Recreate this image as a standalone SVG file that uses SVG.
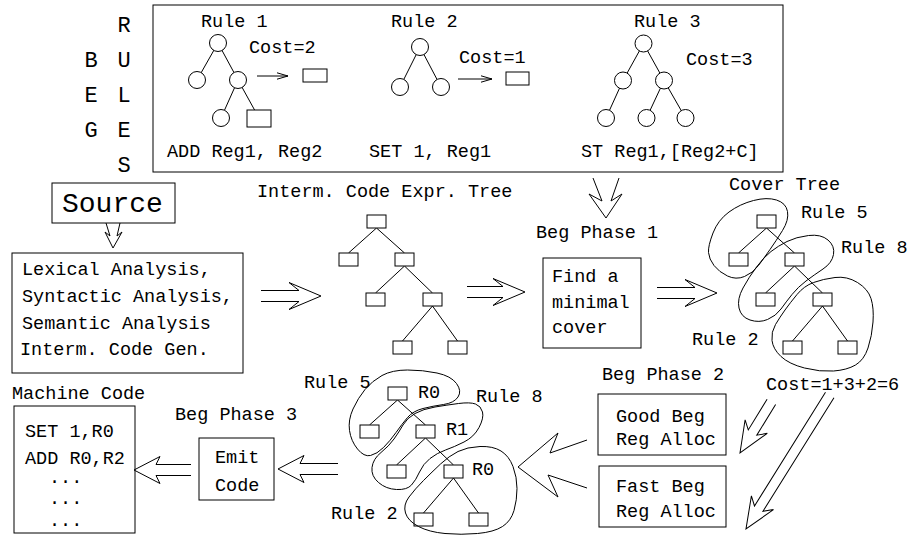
<svg xmlns="http://www.w3.org/2000/svg" width="911" height="536" viewBox="0 0 911 536">
<style>
.t{font-family:"Liberation Mono","Courier New",monospace;font-size:18.5px;fill:#000}
.big{font-size:22px}
.src{font-size:28px}
.box{fill:none;stroke:#000;stroke-width:1}
.ln{fill:none;stroke:#000;stroke-width:1}
.nd{fill:#fff;stroke:#000;stroke-width:1}
.ha{fill:none;stroke:#000;stroke-width:1;stroke-linejoin:miter}
</style>
<defs>
<marker id="stick" markerWidth="12" markerHeight="8" refX="11" refY="4" orient="auto" markerUnits="userSpaceOnUse">
<path d="M0,0.8 L11,4 L0,7.2" fill="none" stroke="#000" stroke-width="1"/>
</marker>
</defs>
<rect width="911" height="536" fill="#fff"/>

<g id="beg-rules">
<text class="t big" text-anchor="middle" x="91" y="67">B</text>
<text class="t big" text-anchor="middle" x="91" y="102">E</text>
<text class="t big" text-anchor="middle" x="91" y="137">G</text>
<text class="t big" text-anchor="middle" x="124" y="32">R</text>
<text class="t big" text-anchor="middle" x="124" y="67">U</text>
<text class="t big" text-anchor="middle" x="124" y="102">L</text>
<text class="t big" text-anchor="middle" x="124" y="137">E</text>
<text class="t big" text-anchor="middle" x="124" y="172">S</text>
</g>

<g id="rules-box">
<rect class="box" x="153" y="5" width="630" height="167"/>
<g id="rule1">
<text class="t" x="201" y="27">Rule 1</text>
<text class="t" x="249" y="53">Cost=2</text>
<path class="ln" d="M218,43 L197,80 M218,43 L238,80 M238,80 L221,118 M238,80 L259,118"/>
<circle class="nd" cx="218" cy="43" r="8.5"/>
<circle class="nd" cx="197" cy="80" r="8.5"/>
<circle class="nd" cx="238" cy="80" r="8.5"/>
<circle class="nd" cx="221" cy="118" r="8.5"/>
<rect class="nd" x="247" y="110" width="24" height="17"/>
<line class="ln" x1="257" y1="76" x2="288" y2="76" marker-end="url(#stick)"/>
<rect class="nd" x="303" y="69" width="24" height="13"/>
<text class="t" x="167" y="157">ADD Reg1, Reg2</text>
</g>
<g id="rule2">
<text class="t" x="391" y="27">Rule 2</text>
<text class="t" x="459" y="63">Cost=1</text>
<path class="ln" d="M420,47 L400,87 M420,47 L441,87"/>
<circle class="nd" cx="420" cy="47" r="8.5"/>
<circle class="nd" cx="400" cy="87" r="8.5"/>
<circle class="nd" cx="441" cy="87" r="8.5"/>
<line class="ln" x1="458" y1="79" x2="492" y2="79" marker-end="url(#stick)"/>
<rect class="nd" x="506" y="72" width="23" height="13"/>
<text class="t" x="369" y="157">SET 1, Reg1</text>
</g>
<g id="rule3">
<text class="t" x="634" y="27">Rule 3</text>
<text class="t" x="686" y="65">Cost=3</text>
<path class="ln" d="M643.5,43.5 L623,80.5 M643.5,43.5 L664,80.5 M623,80.5 L606,118 M664,80.5 L646.5,118 M664,80.5 L685.5,118"/>
<circle class="nd" cx="643.5" cy="43.5" r="8.5"/>
<circle class="nd" cx="623" cy="80.5" r="8.5"/>
<circle class="nd" cx="664" cy="80.5" r="8.5"/>
<circle class="nd" cx="606" cy="118" r="8.5"/>
<circle class="nd" cx="646.5" cy="118" r="8.5"/>
<circle class="nd" cx="685.5" cy="118" r="8.5"/>
<text class="t" x="581" y="157">ST Reg1,[Reg2+C]</text>
</g>
</g>

<g id="source">
<rect class="box" x="52" y="183" width="123" height="40"/>
<text class="t src" x="62" y="212">Source</text>
</g>

<g id="front-end">
<rect class="box" x="12" y="253" width="231" height="120"/>
<text class="t" x="22" y="275">Lexical Analysis,</text>
<text class="t" x="22" y="302">Syntactic Analysis,</text>
<text class="t" x="22" y="329">Semantic Analysis</text>
<text class="t" x="20" y="355">Interm. Code Gen.</text>
</g>

<g id="expr-tree">
<text class="t" x="257" y="197">Interm. Code Expr. Tree</text>
<path class="ln" d="M376.5,228 L348.5,253 M376.5,228 L404.5,253 M404.5,266 L375.5,293 M404.5,266 L432.5,293 M432.5,306 L402.5,341 M432.5,306 L457.5,341"/>
<rect class="nd" x="367" y="215" width="19" height="13"/>
<rect class="nd" x="339" y="253" width="19" height="13"/>
<rect class="nd" x="395" y="253" width="19" height="13"/>
<rect class="nd" x="366" y="293" width="19" height="13"/>
<rect class="nd" x="423" y="293" width="19" height="13"/>
<rect class="nd" x="393" y="341" width="19" height="13"/>
<rect class="nd" x="448" y="341" width="19" height="13"/>
</g>

<g id="beg-phase1">
<text class="t" x="536" y="238">Beg Phase 1</text>
<rect class="box" x="543" y="258" width="98" height="90"/>
<text class="t" x="552" y="282">Find a</text>
<text class="t" x="552" y="308">minimal</text>
<text class="t" x="552" y="333">cover</text>
</g>

<g id="cover-tree">
<text class="t" x="729" y="190">Cover Tree</text>
<path class="ln" d="M766.5,228 L738.5,253 M766.5,228 L794.5,253 M794.5,266 L765.5,293 M794.5,266 L822.5,293 M822.5,306 L792.5,341 M822.5,306 L847.5,341"/>
<rect class="nd" x="757" y="215" width="19" height="13"/>
<rect class="nd" x="729" y="253" width="19" height="13"/>
<rect class="nd" x="785" y="253" width="19" height="13"/>
<rect class="nd" x="756" y="293" width="19" height="13"/>
<rect class="nd" x="813" y="293" width="19" height="13"/>
<rect class="nd" x="783" y="341" width="19" height="13"/>
<rect class="nd" x="838" y="341" width="19" height="13"/>
<path class="ln" d="M708.5,252.5 Q708,246 713,233 Q718,220 729,212 Q740,204 753.5,200.5 Q767,197 776.5,200 Q786,203 787.5,211.5 Q789,220 782.5,230.5 Q776,241 770,249.5 Q764,258 758.5,265.5 Q753,273 744.5,276.5 Q736,280 727.5,276 Q719,272 714,265.5 Q709,259 708.5,252.5 Z"/>
<path class="ln" d="M771,251.5 Q778,246 787,241.5 Q796,237 808.5,235.5 Q821,234 828,240 Q835,246 833.5,254.5 Q832,263 823,269 Q814,275 806,281 Q798,287 792,294.5 Q786,302 781,309 Q776,316 767.5,319.5 Q759,323 750,320 Q741,317 739,308 Q737,299 743,288 Q749,277 756.5,267 Q764,257 771,251.5 Z"/>
<path class="ln" d="M813.5,282.5 Q823,279 835,277.5 Q847,276 857.5,282.5 Q868,289 871,298.5 Q874,308 873,322 Q872,336 868,348 Q864,360 855.5,365 Q847,370 833.5,371 Q820,372 804.5,368 Q789,364 781,356.5 Q773,349 772,340.5 Q771,332 775.5,324.5 Q780,317 785,310 Q790,303 797,294.5 Q804,286 813.5,282.5 Z"/>
<text class="t" x="801" y="218">Rule 5</text>
<text class="t" x="841" y="253">Rule 8</text>
<text class="t" x="692" y="345">Rule 2</text>
</g>

<g id="cost-total">
<text class="t" x="766" y="390">Cost=1+3+2=6</text>
</g>

<g id="beg-phase2">
<text class="t" x="602" y="380">Beg Phase 2</text>
<g id="good-beg">
<rect class="box" x="598" y="394" width="128" height="61"/>
<text class="t" x="616" y="422">Good Beg</text>
<text class="t" x="616" y="445">Reg Alloc</text>
</g>
<g id="fast-beg">
<rect class="box" x="599" y="466" width="127" height="61"/>
<text class="t" x="616" y="492">Fast Beg</text>
<text class="t" x="616" y="517">Reg Alloc</text>
</g>
</g>

<g id="alloc-tree">
<path class="ln" d="M397.5,400 L369.5,425 M397.5,400 L425.5,425 M425.5,438 L396.5,465 M425.5,438 L453.5,465 M453.5,478 L423.5,513 M453.5,478 L478.5,513"/>
<rect class="nd" x="388" y="387" width="19" height="13"/>
<rect class="nd" x="360" y="425" width="19" height="13"/>
<rect class="nd" x="416" y="425" width="19" height="13"/>
<rect class="nd" x="387" y="465" width="19" height="13"/>
<rect class="nd" x="444" y="465" width="19" height="13"/>
<rect class="nd" x="414" y="513" width="19" height="13"/>
<rect class="nd" x="469" y="513" width="19" height="13"/>
<path class="ln" d="M365,389.5 Q372,381 382,375.5 Q392,370 407.5,370 Q423,370 437,373 Q451,376 456.5,383.5 Q462,391 458,397 Q454,403 443.5,404.5 Q433,406 423,408.5 Q413,411 407.5,417.5 Q402,424 396,432.5 Q390,441 383.5,447.5 Q377,454 370.5,455.5 Q364,457 357.5,449 Q351,441 349.5,430.5 Q348,420 353,409 Q358,398 365,389.5 Z"/>
<path class="ln" d="M458.5,403.5 Q470,402 475.5,404 Q481,406 482.5,412 Q484,418 479,427.5 Q474,437 464,442 Q454,447 445.5,450 Q437,453 430,458.5 Q423,464 419.5,472 Q416,480 411.5,485 Q407,490 396.5,489.5 Q386,489 378.5,482.5 Q371,476 372,467.5 Q373,459 381,452.5 Q389,446 394,439 Q399,432 403,425 Q407,418 415,413.5 Q423,409 435,407 Q447,405 458.5,403.5 Z"/>
<path class="ln" d="M458,451.5 Q467,447 480,446.5 Q493,446 501,451 Q509,456 513,466.5 Q517,477 517,488.5 Q517,500 514,510.5 Q511,521 502.5,526.5 Q494,532 477.5,533.5 Q461,535 445,533.5 Q429,532 418.5,526.5 Q408,521 405.5,513 Q403,505 409,497 Q415,489 423.5,480.5 Q432,472 440.5,464 Q449,456 458,451.5 Z"/>
<text class="t" x="418" y="398">R0</text>
<text class="t" x="446" y="435">R1</text>
<text class="t" x="472" y="475">R0</text>
<text class="t" x="304" y="388">Rule 5</text>
<text class="t" x="476" y="402">Rule 8</text>
<text class="t" x="331" y="519">Rule 2</text>
</g>

<g id="beg-phase3">
<text class="t" x="175" y="420">Beg Phase 3</text>
<rect class="box" x="199" y="438" width="75" height="62"/>
<text class="t" x="215" y="463">Emit</text>
<text class="t" x="215" y="491">Code</text>
</g>

<g id="machine-code">
<text class="t" x="12" y="399">Machine Code</text>
<rect class="box" x="14" y="406" width="121" height="127"/>
<text class="t" x="25" y="437">SET 1,R0</text>
<text class="t" x="25" y="464">ADD R0,R2</text>
<text class="t" x="49" y="483">...</text>
<text class="t" x="49" y="504">...</text>
<text class="t" x="49" y="526">...</text>
</g>

<g id="connectors">
<polyline class="ha" points="593,178 602,201 589,194 606,218 622,194 611,201 619,178"/>
<polyline class="ha" points="106,223 110,236 105,232 113,248 122,232 117,236 120,223"/>
<path class="ha" transform="translate(321,296)" d="M-60,-5.5 H-22 L-32,-13.5 L0,0 L-32,13.5 L-22,5.5 H-60"/>
<path class="ha" transform="translate(525,292)" d="M-58,-5.5 H-22 L-32,-13.5 L0,0 L-32,13.5 L-22,5.5 H-58"/>
<path class="ha" transform="translate(717,293)" d="M-60,-5.5 H-22 L-32,-13.5 L0,0 L-32,13.5 L-22,5.5 H-60"/>
<path class="ha" transform="translate(740,453) rotate(121.5)" d="M-60,-5 H-24 L-31,-13 L0,0 L-31,13 L-24,5 H-60"/>
<path class="ha" transform="translate(746,529) rotate(122)" d="M-158,-5 H-24 L-31,-13 L0,0 L-31,13 L-24,5 H-158"/>
<polyline class="ha" points="587,440 550,453 558,433 518,467 558,497 548,475 587,488"/>
<path class="ha" transform="translate(278,469) rotate(180)" d="M-60,-5.5 H-22 L-26,-13.5 L0,0 L-26,13.5 L-22,5.5 H-60"/>
<path class="ha" transform="translate(134,470) rotate(180)" d="M-57,-5.5 H-22 L-26,-13.5 L0,0 L-26,13.5 L-22,5.5 H-57"/>
</g>
</svg>
